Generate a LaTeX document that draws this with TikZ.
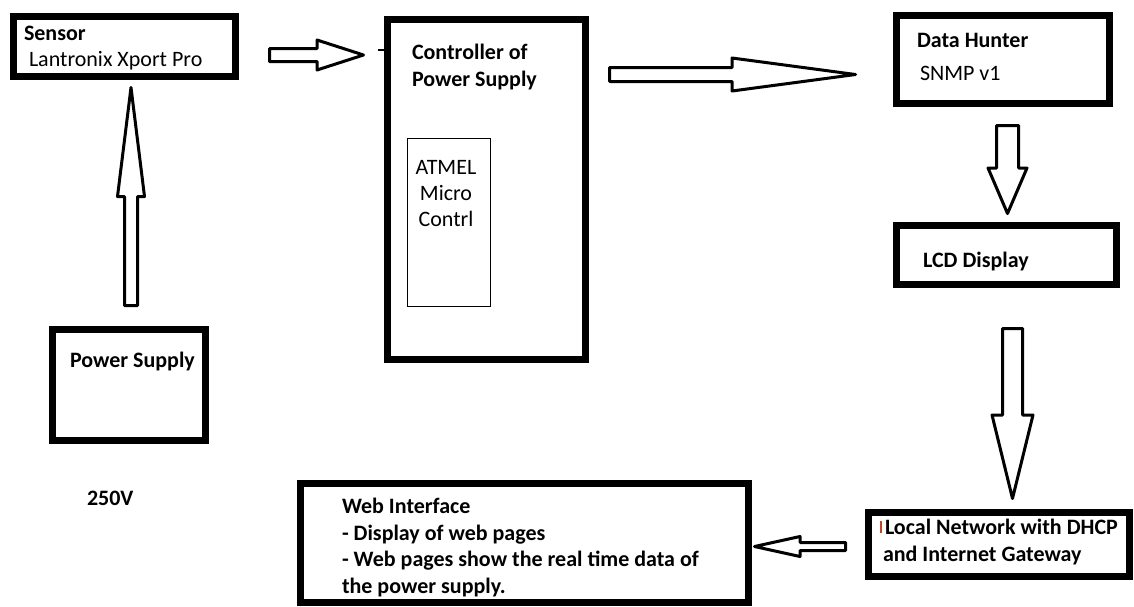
\documentclass[tikz,border=0pt]{standalone}
\usepackage{fontspec}
\setmainfont{Carlito}
\usetikzlibrary{calc}

% hollow block arrow: tail, tip, shaft half-width, head half-width, head length, name
\newcommand\blockarrow[6]{%
  \coordinate (#6b) at ($(#2)!#5!(#1)$);
  \draw[hollow] ($(#1)!#3!90:(#2)$) -- ($(#6b)!#3!90:(#2)$) -- ($(#6b)!#4!90:(#2)$) -- (#2)
    -- ($(#6b)!#4!-90:(#2)$) -- ($(#6b)!#3!-90:(#2)$) -- ($(#1)!#3!-90:(#2)$) -- cycle;}

\begin{document}
\begin{tikzpicture}[x=1pt,y=-1pt,
  blockbox/.style={draw, line width=7pt, inner sep=0pt, outer sep=0pt},
  thinbox/.style={draw, line width=1.5pt, inner sep=0pt, outer sep=0pt},
  hollow/.style={draw, line width=3pt, line join=round, fill=white},
  txt/.style={inner sep=0pt, outer sep=0pt, font=\fontsize{22}{27}\selectfont, anchor=base west},
  btxt/.style={txt, font=\fontsize{22}{27}\selectfont\bfseries}]

\fill[white] (0,0) rectangle (1134,606);
\useasboundingbox (0,0) rectangle (1134,606);

% boxes
\node[blockbox, minimum width=222pt, minimum height=60pt]  (sensor) at (124.5,46.5) {};
\node[blockbox, minimum width=153pt, minimum height=111pt] (psu)    at (129,385) {};
\node[blockbox, minimum width=198pt, minimum height=340pt] (ctrl)   at (486.5,189.5) {};
\node[thinbox,  minimum width=83pt,  minimum height=168pt] (atmel)  at (449,222.5) {};
\node[blockbox, minimum width=213pt, minimum height=88pt]  (dh)     at (1003,59.5) {};
\node[blockbox, minimum width=220pt, minimum height=59pt]  (lcd)    at (1006.5,255) {};
\node[blockbox, minimum width=261pt, minimum height=64pt]  (lan)    at (999,544.5) {};
\node[blockbox, minimum width=448pt, minimum height=119pt] (web)    at (524.5,543) {};

% labels
\node[btxt] (sensorT) at (24,40) {Sensor};
\node[txt]  (sensorS) at (29,66) {Lantronix Xport Pro};
\node[btxt] (psuT) at (70,367) {Power Supply};
\node[btxt] (volt) at (87,505) {250V};
\node[btxt] (ctrlT1) at (412,59) {Controller of};
\node[btxt] (ctrlT2) at (412,86) {Power Supply};
\node[txt, anchor=base] (atmel1) at (446,174) {ATMEL};
\node[txt, anchor=base] (atmel2) at (446,200) {Micro};
\node[txt, anchor=base] (atmel3) at (446,226) {Contrl};
\node[btxt] (dhT) at (917,47) {Data Hunter};
\node[txt]  (dhS) at (920,80) {SNMP v1};
\node[btxt] (lcdT) at (923,267) {LCD Display};
\node[btxt] (lan1) at (885,534) {Local Network with DHCP};
\node[btxt] (lan2) at (883,561) {and Internet Gateway};
\node[btxt] (web1) at (342,513) {Web Interface};
\node[btxt] (web2) at (342,540) {- Display of web pages};
\node[btxt] (web3) at (342,566) {- Web pages show the real time data of};
\node[btxt] (web4) at (342,593) {the power supply.};

% text cursor left in the network box
\coordinate (cur1) at ($(lan1.base west)+(-4,-13)$);
\coordinate (cur2) at ($(lan1.base west)+(-4,-1)$);
\draw[line width=1.2pt, draw={rgb,255:red,200;green,70;blue,40}] (cur1) -- (cur2);

% arrow ends
\coordinate (a1s) at ($(psu.north)+(2,-24)$);
\coordinate (a1e) at ($(sensor.south)+(6.5,11)$);
\coordinate (a2s) at ($(sensor.east)+(34,8.5)$);
\coordinate (a2e) at ($(ctrl.north west)+(-24,35.5)$);
\coordinate (a3s) at ($(ctrl.north east)+(24,55)$);
\coordinate (a3e) at ($(dh.west)+(-41,15)$);
\coordinate (a4s) at ($(dh.south)+(4.5,22)$);
\coordinate (a4e) at ($(lcd.north)+(1,-12)$);
\coordinate (a5s) at ($(lcd.south)+(6,44)$);
\coordinate (a5e) at ($(lan.north)+(13.5,-14)$);
\coordinate (a6s) at ($(lan.west)+(-23,2)$);
\coordinate (a6e) at ($(web.east)+(6,3.5)$);

\blockarrow{a1s}{a1e}{6.5pt}{13.5pt}{109pt}{a1}
\blockarrow{a2s}{a2e}{6.5pt}{15pt}{46.5pt}{a2}
\blockarrow{a3s}{a3e}{7pt}{16.5pt}{123.5pt}{a3}
\blockarrow{a4s}{a4e}{11pt}{19.5pt}{45.5pt}{a4}
\blockarrow{a5s}{a5e}{10pt}{20.5pt}{83.5pt}{a5}
\blockarrow{a6s}{a6e}{4pt}{10pt}{45.5pt}{a6}

% small tick on the controller's left edge
\coordinate (tick) at ($(ctrl.north west)+(-10,30.5)$);
\draw[line width=2.5pt] (tick) -- ($(ctrl.north west)+(0,30.5)$);
\end{tikzpicture}
\end{document}
